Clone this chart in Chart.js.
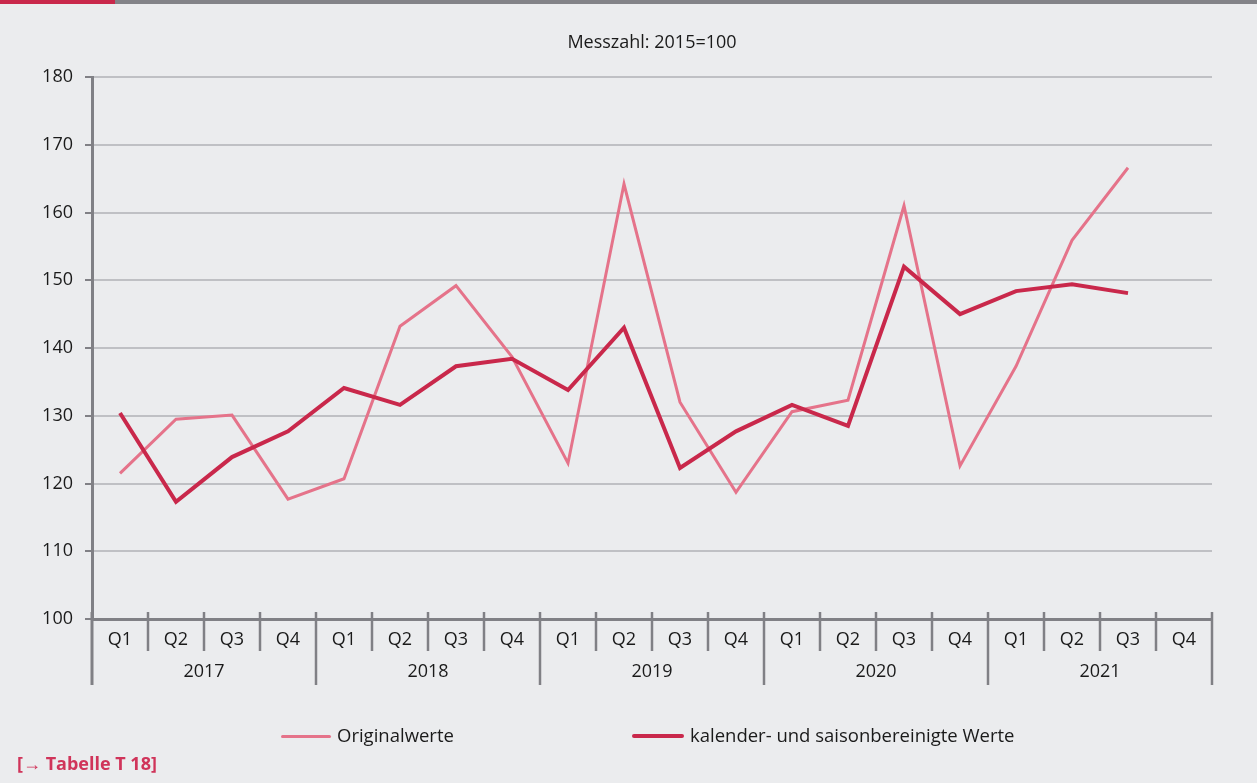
<!DOCTYPE html>
<html>
<head>
<meta charset="utf-8">
<script src="https://cdn.jsdelivr.net/npm/chart.js@4"></script>
<style>
  html, body { margin:0; padding:0; background:#ebecee; }
  body { width:1257px; height:783px; position:relative; overflow:hidden; font-family:"Open Sans", "Noto Sans", sans-serif; color:#1a1a1a; }
  #wrap { position:absolute; left:0; top:0; width:1257px; height:783px; }
  .bar { position:absolute; top:0; height:4px; }
  #title { position:absolute; top:29px; left:452px; width:400px; text-align:center; font-size:18px; }
  .leg { position:absolute; top:722px; font-size:18.5px; white-space:nowrap; }
  .leg span.line { position:absolute; top:13px; left:0; width:50px; border-radius:2px; }
  .leg span.txt { position:absolute; left:56px; top:0; }
  #foot { position:absolute; left:17px; top:751px; font-size:18px; font-weight:bold; color:#d0345a; }
</style>
</head>
<body>
<div class="bar" style="left:0;width:115px;background:#c9284b"></div>
<div class="bar" style="left:115px;width:1142px;background:#838388"></div>
<div id="wrap"><canvas id="c" width="1257" height="783"></canvas></div>
<div id="title">Messzahl: 2015=100</div>
<div class="leg" style="left:281px"><span class="line" style="height:3px;background:#e5738a"></span><span class="txt">Originalwerte</span></div>
<div class="leg" style="left:632px"><span class="line" style="height:4px;top:12px;width:52px;background:#c9284b"></span><span class="txt" style="left:58px">kalender- und saisonbereinigte Werte</span></div>
<div id="foot">[→ Tabelle T 18]</div>
<script>
const years = ['2017', '2018', '2019', '2020', '2021'];
const quarters = ['Q1', 'Q2', 'Q3', 'Q4'];
const originalwerte = [121.5, 129.5, 130.1, 117.7, 120.7, 143.2, 149.2, 138.7, 123.0, 164.2, 132.0, 118.7, 130.6, 132.3, 161.0, 122.6, 137.3, 155.9, 166.6, null];
const bereinigt = [130.4, 117.3, 123.9, 127.7, 134.1, 131.6, 137.3, 138.4, 133.8, 143.0, 122.3, 127.7, 131.6, 128.5, 152.0, 145.0, 148.4, 149.4, 148.1, null];
const yTicks = { min: 100, max: 180, step: 10 };

const quarterLabels = [];
years.forEach(() => quarters.forEach(q => quarterLabels.push(q)));

const PINK = '#e5738a', RED = '#c9284b', AXIS = '#808085', GRID = '#bfc0c4', TEXT = '#1a1a1a';
const FONT = { family: '"Open Sans", "Noto Sans", sans-serif', size: 18 };

const separators = {
  id: 'separators',
  afterDraw(chart) {
    const ctx = chart.ctx, xs = chart.scales.x, x2 = chart.scales.x2;
    const n = quarterLabels.length, step = (xs.right - xs.left) / n;
    ctx.save();
    ctx.strokeStyle = AXIS;
    for (let i = 0; i <= n; i++) {
      const x = Math.round(xs.left + i * step);
      const yearEdge = i % quarters.length === 0;
      ctx.lineWidth = (i === 0) ? 3 : 2.5;
      ctx.beginPath();
      ctx.moveTo(x, xs.top - 7);
      ctx.lineTo(x, yearEdge ? x2.bottom : xs.bottom);
      ctx.stroke();
    }
    ctx.restore();
  }
};

new Chart(document.getElementById('c'), {
  type: 'line',
  data: {
    labels: quarterLabels,
    datasets: [
      { label: 'Originalwerte', data: originalwerte, borderColor: PINK, backgroundColor: PINK, borderWidth: 3, pointRadius: 0, tension: 0, order: 2 },
      { label: 'kalender- und saisonbereinigte Werte', data: bereinigt, borderColor: RED, backgroundColor: RED, borderWidth: 4, pointRadius: 0, tension: 0, order: 1 }
    ]
  },
  options: {
    responsive: false,
    animation: false,
    devicePixelRatio: 1,
    layout: { padding: { left: 0, right: 45, top: 77, bottom: 98 } },
    plugins: { legend: { display: false }, title: { display: false }, tooltip: { enabled: false } },
    scales: {
      x: {
        type: 'category', offset: true, position: 'bottom',
        grid: { display: false, drawTicks: false },
        border: { display: true, color: AXIS, width: 3 },
        ticks: { color: TEXT, font: FONT, padding: 10, autoSkip: false, maxRotation: 0 },
        afterFit(s) { s.height = 32; }
      },
      x2: {
        type: 'category', labels: years, offset: true, position: 'bottom',
        grid: { display: false, drawTicks: false },
        border: { display: false },
        ticks: { color: TEXT, font: FONT, padding: 10, autoSkip: false, maxRotation: 0 },
        afterFit(s) { s.height = 34; }
      },
      y: {
        min: yTicks.min, max: yTicks.max,
        ticks: { stepSize: yTicks.step, color: TEXT, font: FONT, padding: 12 },
        grid: { color: GRID, lineWidth: 2, tickColor: AXIS, tickLength: 7 },
        border: { color: AXIS, width: 3 },
        afterFit(s) { s.width = 92; }
      }
    }
  },
  plugins: [separators]
});
</script>
</body>
</html>
